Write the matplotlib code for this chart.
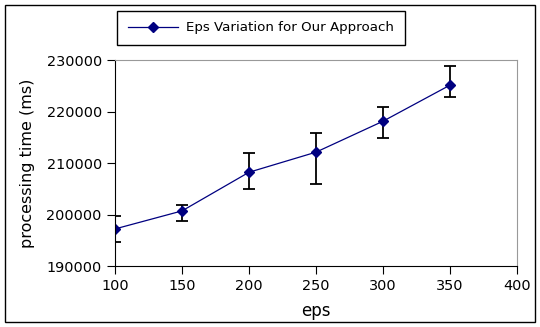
import matplotlib
matplotlib.use('Agg')
import matplotlib.pyplot as plt
from matplotlib.patches import Rectangle
from matplotlib.lines import Line2D

eps = [100, 150, 200, 250, 300, 350]
time_ms = [197200, 200700, 208200, 212100, 218100, 225100]
err_low = [2500, 1900, 3200, 6200, 3300, 2200]
err_high = [2600, 1100, 3800, 3800, 2700, 3800]

fig = plt.figure(figsize=(5.4, 3.27), dpi=100)
ax = fig.add_axes([0.213, 0.1865, 0.744, 0.63])

ax.errorbar(eps, time_ms, yerr=[err_low, err_high], color='#000080', lw=0.9,
            marker='D', ms=5, ecolor='black', elinewidth=1.3, capsize=4, capthick=1.3)

ax.set_xlim(100, 400)
ax.set_ylim(190000, 230000)
ax.set_xticks([100, 150, 200, 250, 300, 350, 400])
ax.set_yticks([190000, 200000, 210000, 220000, 230000])
ax.tick_params(labelsize=10.4, length=6)
ax.set_xlabel('eps', fontsize=12, labelpad=6)
ax.set_ylabel('processing time (ms)', fontsize=11.5, labelpad=8)
ax.spines['top'].set_color('#999999')
ax.spines['right'].set_color('#999999')

handle = Line2D([], [], color='#000080', lw=0.9, marker='D', ms=5)
fig.legend([handle], ['Eps Variation for Our Approach'], loc='center',
           bbox_to_anchor=(261 / 540, 1 - 28 / 327), fontsize=9.6, handlelength=3.8,
           fancybox=False, edgecolor='black', framealpha=1, borderpad=0.8,
           handletextpad=0.6)

fig.patches.append(Rectangle((5 / 540, 5 / 327), 530 / 540, 317 / 327, transform=fig.transFigure,
                             fill=False, edgecolor='black', lw=1))

fig.savefig('out.png', dpi=100)
